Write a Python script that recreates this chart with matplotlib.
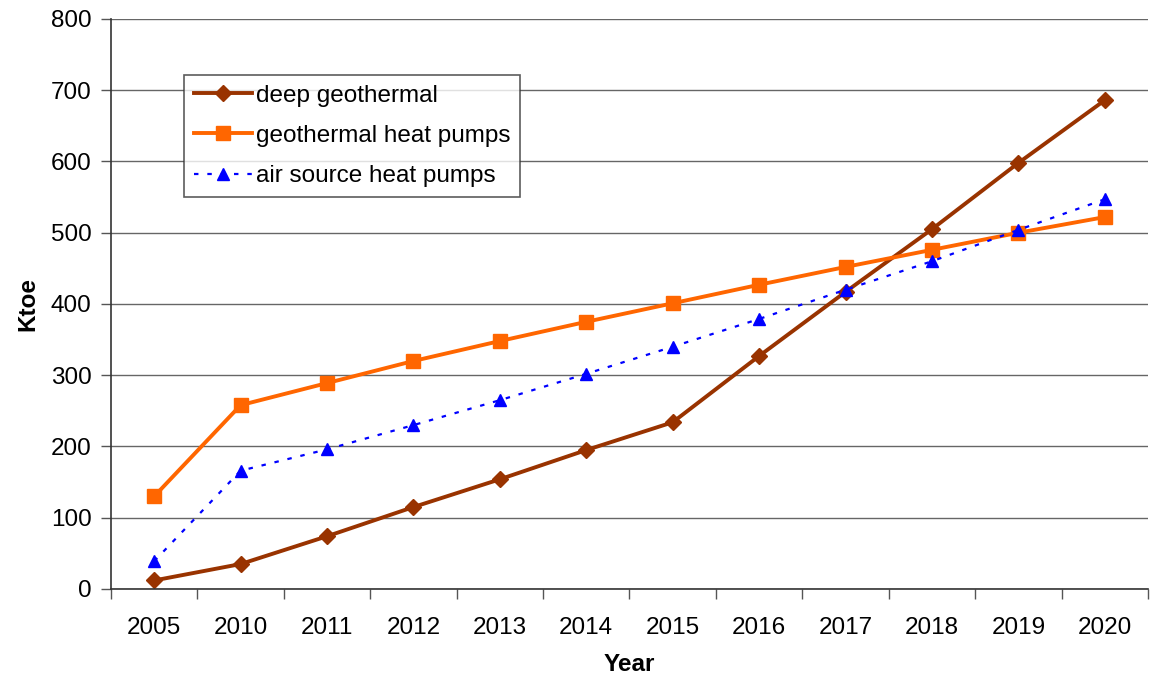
import matplotlib
matplotlib.use("Agg")
import matplotlib.pyplot as plt
import numpy as np

# ------------------------- DATA -------------------------
years = ["2005", "2010", "2011", "2012", "2013", "2014",
         "2015", "2016", "2017", "2018", "2019", "2020"]
deep_geothermal = [12, 35, 74, 115, 154, 195, 234, 327, 417, 505, 598, 686]
geo_heat_pumps = [130, 258, 289, 320, 348, 375, 401, 427, 452, 476, 500, 522]
air_heat_pumps = [39, 166, 196, 230, 265, 302, 340, 379, 420, 460, 504, 547]
# --------------------------------------------------------

plt.rcParams['font.family'] = ['Liberation Sans', 'DejaVu Sans']
FS = 17.5

fig = plt.figure(figsize=(11.51, 6.76), dpi=100)
ax = fig.add_axes([0.0964, 0.1287, 0.901, 0.8432])

x = np.arange(len(years))

ax.plot(x, deep_geothermal, color="#993300", lw=2.8, marker="D", ms=8,
        label="deep geothermal")
ax.plot(x, geo_heat_pumps, color="#FF6600", lw=2.8, marker="s", ms=10,
        label="geothermal heat pumps")
ax.plot(x, air_heat_pumps, color="#0000FF", lw=1.6, ls=(0, (2, 4)),
        marker="^", ms=9, label="air source heat pumps")

ax.set_xlim(-0.5, len(years) - 0.5)
ax.set_ylim(0, 800)
ax.set_yticks(np.arange(0, 801, 100))

# category labels centred, ticks between categories
ax.set_xticks(x)
ax.set_xticklabels(years)
ax.set_xticks(np.arange(-0.5, len(years), 1.0), minor=True)
ax.tick_params(axis="x", which="major", length=0, pad=20, labelsize=FS)
ax.tick_params(axis="x", which="minor", length=7, width=1, color="#555555")
ax.tick_params(axis="y", length=7, width=1, color="#555555", labelsize=FS, pad=7)

ax.yaxis.grid(True, color="#666666", lw=1)
ax.set_axisbelow(True)
for s in ["top", "right"]:
    ax.spines[s].set_visible(False)
for s in ["left", "bottom"]:
    ax.spines[s].set_color("#333333")
    ax.spines[s].set_linewidth(1.2)

ax.set_xlabel("Year", fontsize=FS, fontweight="bold", labelpad=10)
ax.set_ylabel("Ktoe", fontsize=FS, fontweight="bold", labelpad=8)

leg = ax.legend(loc="upper left", bbox_to_anchor=(0.0704, 0.902), fontsize=FS,
                frameon=True, fancybox=False, edgecolor="#333333",
                borderpad=0.4, labelspacing=0.75, handlelength=2.4,
                handletextpad=0.15, borderaxespad=0)
leg.get_frame().set_linewidth(1.2)

fig.savefig("out.png", dpi=100, facecolor="white")
